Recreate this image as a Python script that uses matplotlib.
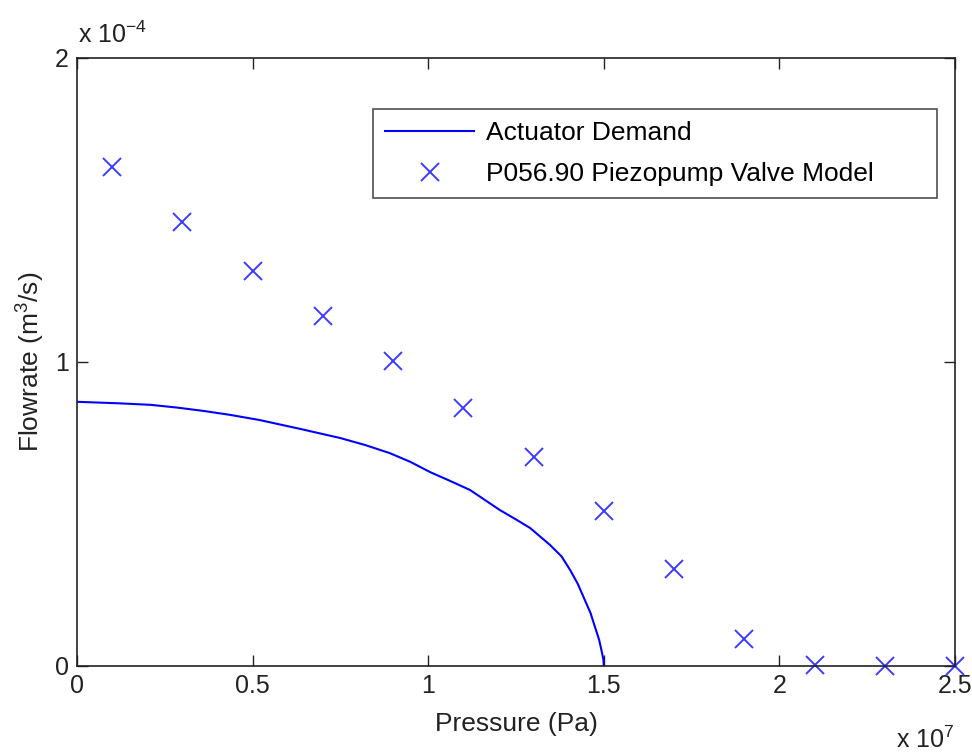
import numpy as np
import matplotlib.pyplot as plt
from matplotlib.ticker import FuncFormatter

# Actuator demand curve (Pa, m^3/s)
demand_p = np.array([0.0, 0.12, 0.21, 0.285, 0.36, 0.436, 0.52, 0.635, 0.749,
                     0.82, 0.891, 0.95, 1.005, 1.06, 1.119, 1.204, 1.25, 1.29,
                     1.347, 1.38, 1.404, 1.426, 1.446, 1.462, 1.475, 1.487,
                     1.495, 1.499, 1.5]) * 1e7
demand_q = np.array([0.869, 0.864, 0.859, 0.85, 0.839, 0.826, 0.809, 0.78, 0.75,
                     0.727, 0.70, 0.671, 0.638, 0.61, 0.579, 0.513, 0.482,
                     0.454, 0.398, 0.36, 0.316, 0.27, 0.217, 0.175, 0.128,
                     0.085, 0.043, 0.02, 0.0]) * 1e-4

# Piezopump valve model points
valve_p = np.array([0.1, 0.3, 0.5, 0.7, 0.9, 1.1, 1.3, 1.5, 1.7, 1.9, 2.1,
                    2.3, 2.5]) * 1e7
valve_q = np.array([1.64, 1.46, 1.30, 1.151, 1.003, 0.849, 0.688, 0.510,
                    0.319, 0.089, 0.004, 0.0, 0.0]) * 1e-4

x_ticks = [0, 0.5e7, 1e7, 1.5e7, 2e7, 2.5e7]
y_ticks = [0, 1e-4, 2e-4]

plt.rcParams['font.family'] = ['Liberation Sans', 'DejaVu Sans']
plt.rcParams['mathtext.fontset'] = 'custom'
plt.rcParams['mathtext.rm'] = 'Liberation Sans'
dark = '#222222'

fig = plt.figure(figsize=(9.72, 7.52), dpi=100)
ax = fig.add_axes([0.0792, 0.1144, 0.9033, 0.8085])

ax.plot(demand_p, demand_q, color='#0000ff', lw=1.5, label='Actuator Demand')
ax.plot(valve_p, valve_q, ls='none', marker='x', color='#3b3bff', ms=13,
        mew=1.4, label='P056.90 Piezopump Valve Model', clip_on=False)

ax.set_xlim(0, 2.5e7)
ax.set_ylim(0, 2e-4)
ax.set_xticks(x_ticks)
ax.set_yticks(y_ticks)
ax.xaxis.set_major_formatter(FuncFormatter(lambda v, p: '%g' % (v / 1e7)))
ax.yaxis.set_major_formatter(FuncFormatter(lambda v, p: '%g' % (v / 1e-4)))
ax.tick_params(direction='in', length=8, width=1, top=True, right=True,
               labelsize=18, colors=dark, pad=6)
for s in ax.spines.values():
    s.set_linewidth(1.2)
    s.set_color(dark)

ax.set_xlabel('Pressure (Pa)', fontsize=19, color=dark, labelpad=10)
ax.set_ylabel(r'Flowrate (m$^3$/s)', fontsize=19, color=dark, labelpad=6)

fig.text(0.080, 0.943, r'x 10$^{-4}$', fontsize=18, color=dark)
fig.text(0.922, 0.005, r'x 10$^{7}$', fontsize=18, color=dark)

leg = ax.legend(loc='upper left', bbox_to_anchor=(0.337, 0.5, 0.642, 0.416),
                mode='expand', borderaxespad=0, fontsize=19, frameon=True,
                fancybox=False, edgecolor=dark, handlelength=3.4,
                handletextpad=0.45, borderpad=0.45, labelspacing=0.65)
leg.get_frame().set_linewidth(1.2)

plt.savefig('out.png', dpi=100)
